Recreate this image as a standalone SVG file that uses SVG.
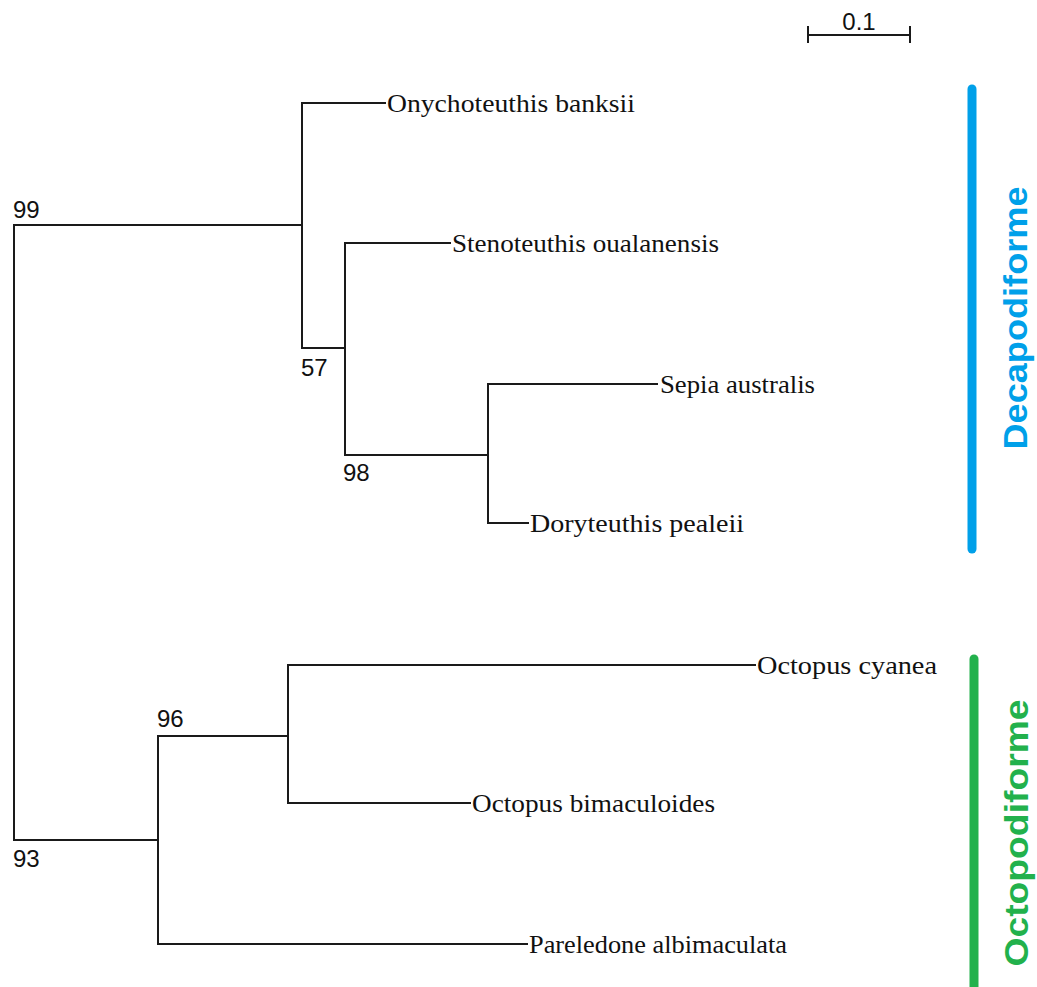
<svg xmlns="http://www.w3.org/2000/svg" width="1037" height="987" viewBox="0 0 1037 987">
<style>
.br{stroke:#1a1a1a;stroke-width:2;fill:none;stroke-linecap:square}
.tx{font-family:"Liberation Serif","Times New Roman",serif;font-size:26px;fill:#111}
.bs{font-family:"Liberation Sans",Arial,sans-serif;font-size:24px;fill:#111}
.grp{font-family:"Liberation Sans",Arial,sans-serif;font-weight:bold;font-size:34px;text-anchor:middle}
</style>
<rect width="1037" height="987" fill="#fff"/>
<g id="connectors" class="br">
<path d="M14,225V840"/>
<path d="M14,225H302"/>
<path d="M302,103V348"/>
<path d="M302,103H385"/>
<path d="M302,348H345"/>
<path d="M345,243V455"/>
<path d="M345,243H450"/>
<path d="M345,455H488"/>
<path d="M488,384V523"/>
<path d="M488,384H657"/>
<path d="M488,523H528"/>
<path d="M14,840H158"/>
<path d="M158,736V944"/>
<path d="M158,736H288"/>
<path d="M158,944H527"/>
<path d="M288,665V803"/>
<path d="M288,665H755"/>
<path d="M288,803H470"/>
</g>
<g id="bootstrap">
<text class="bs" x="13" y="218">99</text>
<text class="bs" x="301" y="376">57</text>
<text class="bs" x="343" y="481">98</text>
<text class="bs" x="157" y="727">96</text>
<text class="bs" x="13" y="867">93</text>
</g>
<g id="leaf-onychoteuthis"><text class="tx" x="387" y="112" textLength="248" lengthAdjust="spacingAndGlyphs">Onychoteuthis banksii</text></g>
<g id="leaf-stenoteuthis"><text class="tx" x="452" y="252" textLength="267" lengthAdjust="spacingAndGlyphs">Stenoteuthis oualanensis</text></g>
<g id="leaf-sepia"><text class="tx" x="660" y="393" textLength="155" lengthAdjust="spacingAndGlyphs">Sepia australis</text></g>
<g id="leaf-doryteuthis"><text class="tx" x="530" y="532" textLength="214" lengthAdjust="spacingAndGlyphs">Doryteuthis pealeii</text></g>
<g id="leaf-cyanea"><text class="tx" x="757" y="674" textLength="180" lengthAdjust="spacingAndGlyphs">Octopus cyanea</text></g>
<g id="leaf-bimaculoides"><text class="tx" x="472" y="812" textLength="243" lengthAdjust="spacingAndGlyphs">Octopus bimaculoides</text></g>
<g id="leaf-pareledone"><text class="tx" x="529" y="953" textLength="258" lengthAdjust="spacingAndGlyphs">Pareledone albimaculata</text></g>
<g id="scale-bar">
<path d="M808,35H910M808,26V43M910,26V43" stroke="#1a1a1a" stroke-width="2" fill="none"/>
<text class="bs" x="859" y="30" text-anchor="middle">0.1</text>
</g>
<g id="clade-decapodiforme">
<line x1="972" y1="89" x2="972" y2="549" stroke="#00a0e9" stroke-width="9" stroke-linecap="round"/>
<text class="grp" fill="#00a0e9" transform="translate(1027,318) rotate(-90)" textLength="263" lengthAdjust="spacingAndGlyphs">Decapodiforme</text>
</g>
<g id="clade-octopodiforme">
<line x1="974" y1="659" x2="974" y2="995" stroke="#22b14c" stroke-width="9" stroke-linecap="round"/>
<text class="grp" fill="#22b14c" transform="translate(1028,833) rotate(-90)" textLength="267" lengthAdjust="spacingAndGlyphs">Octopodiforme</text>
</g>
</svg>
